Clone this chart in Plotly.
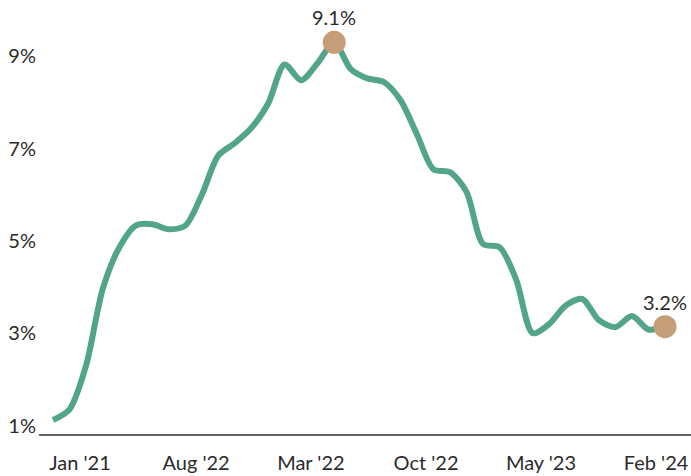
import plotly.graph_objects as go

# Monthly CPI (Jan 2021 .. Feb 2024), in %
month_index = list(range(38))
cpi = [1.12, 1.35, 2.3, 3.95, 4.85, 5.33, 5.36, 5.25, 5.33, 6.0,
       6.85, 7.12, 7.45, 7.97, 8.82, 8.48, 8.85, 9.3, 8.72, 8.52,
       8.44, 8.05, 7.31, 6.55, 6.49, 6.06, 4.93, 4.86, 4.16, 3.0,
       3.2, 3.6, 3.74, 3.28, 3.13, 3.37, 3.08, 3.14]

highlight_idx = [17, 37]
highlight_text = ["9.1%", "3.2%"]

x_tick_pos = [1.63, 8.65, 15.59, 22.55, 29.5, 36.46]
x_tick_text = ["Jan '21", "Aug '22", "Mar '22", "Oct '22", "May '23", "Feb '24"]
y_tick_vals = [1, 3, 5, 7, 9]
y_tick_text = ["1%", "3%", "5%", "7%", "9%"]

LINE = "#52A48B"
DOT = "#C59E79"
TXT = "#2b2b2b"
FONT = "Lato"

fig = go.Figure()
fig.add_trace(go.Scatter(
    x=month_index, y=cpi, mode="lines",
    line=dict(color=LINE, width=6, shape="spline", smoothing=0.8),
    hoverinfo="skip", cliponaxis=False))
fig.add_trace(go.Scatter(
    x=[month_index[i] for i in highlight_idx],
    y=[cpi[i] for i in highlight_idx],
    mode="markers",
    marker=dict(color=DOT, size=23, line=dict(width=0)),
    hoverinfo="skip", cliponaxis=False))

for i, t in zip(highlight_idx, highlight_text):
    fig.add_annotation(x=month_index[i], y=cpi[i], text=t, showarrow=False,
                       yshift=25, yanchor="middle", xanchor="center",
                       borderpad=0,
                       font=dict(family=FONT, size=20, color=TXT))

fig.update_layout(
    width=691, height=476,
    margin=dict(l=39, r=0, t=10, b=42),
    paper_bgcolor="white", plot_bgcolor="white",
    showlegend=False,
    hovermode=False,
    font=dict(family=FONT, size=20, color=TXT),
    xaxis=dict(range=[-0.846, 38.57], tickvals=x_tick_pos, ticktext=x_tick_text,
               showgrid=False, zeroline=False, showline=True, linecolor="#666666",
               linewidth=2, ticks="", ticklabelstandoff=10,
               tickfont=dict(family=FONT, size=20, color=TXT)),
    yaxis=dict(range=[0.816, 10.0], tickvals=y_tick_vals, ticktext=y_tick_text,
               showgrid=False, zeroline=False, showline=False, ticks="",
               ticklabelstandoff=2,
               tickfont=dict(family=FONT, size=20, color=TXT)),
)
fig.write_html("out.html",
               config={"displayModeBar": False, "staticPlot": True},
               post_script="document.body.style.margin='0';document.body.style.overflow='hidden';")
